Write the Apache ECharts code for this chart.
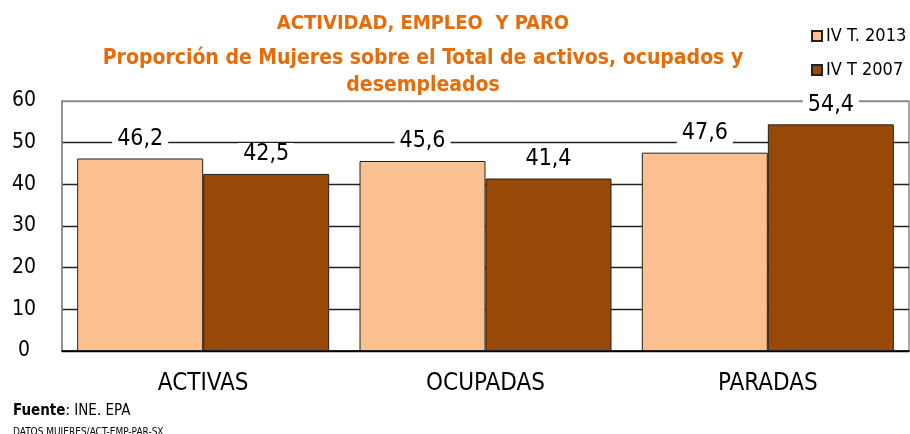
<!DOCTYPE html>
<html>
<head>
<meta charset="utf-8">
<script src="https://cdn.jsdelivr.net/npm/echarts@6/dist/echarts.min.js"></script>
<style>
  html, body { margin: 0; padding: 0; background: #fff; }
  #main { width: 910px; height: 434px; }
</style>
</head>
<body>
<div id="main"></div>
<script>
(function () {
    'use strict';
    var categories = ['ACTIVAS', 'OCUPADAS', 'PARADAS'];
    var serie2013 = [46.2, 45.6, 47.6];
    var serie2007 = [42.5, 41.4, 54.4];
    var seriesNames = ['IV T. 2013', 'IV T 2007'];
    var FONT = '"Liberation Sans Narrow", "DejaVu Sans Condensed", sans-serif';

    var dom = document.getElementById('main');
    var myChart = echarts.init(dom);

    function fmt(p) {
        return String(p.value).replace('.', ',');
    }
    var labelStyle = {
        show: true,
        position: 'top',
        distance: 8,
        formatter: fmt,
        color: '#000',
        fontFamily: FONT,
        fontSize: 23,
        backgroundColor: '#fff',
        padding: [0, 5, 0, 5]
    };

    var option = {
        animation: false,
        title: [
            {
                text: 'ACTIVIDAD, EMPLEO  Y PARO',
                left: 418,
                top: 9,
                textAlign: 'center',
                textStyle: { color: '#E46C0A', fontFamily: FONT, fontWeight: 'bold', fontSize: 20 }
            },
            {
                text: 'Proporción de Mujeres sobre el Total de activos, ocupados y\ndesempleados',
                left: 418,
                top: 40,
                textAlign: 'center',
                textStyle: { color: '#E46C0A', fontFamily: FONT, fontWeight: 'bold', fontSize: 21, lineHeight: 27 }
            }
        ],
        legend: {
            orient: 'vertical',
            left: 806,
            top: 22,
            itemGap: 16,
            itemWidth: 10,
            itemHeight: 10,
            icon: 'rect',
            textStyle: { color: '#000', fontFamily: FONT, fontSize: 18, padding: [0, 0, 0, -1] },
            data: seriesNames
        },
        grid: {
            left: 62,
            right: 1,
            top: 101,
            bottom: 83,
            show: true,
            borderColor: '#8c8c8c',
            borderWidth: 1.5
        },
        xAxis: {
            type: 'category',
            data: categories,
            axisLine: { lineStyle: { color: '#000', width: 1.5 } },
            axisTick: { show: false },
            axisLabel: { color: '#000', fontFamily: FONT, fontSize: 24, margin: 21 }
        },
        yAxis: {
            type: 'value',
            min: 0,
            max: 60,
            interval: 10,
            axisLine: { show: true, lineStyle: { color: '#8c8c8c', width: 1.5 } },
            axisTick: { show: false },
            axisLabel: { color: '#000', fontFamily: FONT, fontSize: 21, margin: 38, align: 'center' },
            splitLine: { lineStyle: { color: ['#000', '#222', '#222', '#222', '#222', '#222', '#8c8c8c'], width: 1.3 } }
        },
        series: [
            {
                name: seriesNames[0],
                type: 'bar',
                data: serie2013,
                barWidth: 126,
                barGap: '0%',
                itemStyle: { color: '#FAC090', borderColor: '#222', borderWidth: 1 },
                label: labelStyle
            },
            {
                name: seriesNames[1],
                type: 'bar',
                data: serie2007,
                barWidth: 126,
                barGap: '0%',
                itemStyle: { color: '#984807', borderColor: '#222', borderWidth: 1 },
                label: labelStyle
            }
        ],
        graphic: [
            {
                type: 'text',
                left: 13,
                top: 404,
                style: {
                    text: '{b|Fuente}: INE. EPA',
                    rich: {
                        b: { fontWeight: 'bold', fontFamily: FONT, fontSize: 15, fill: '#000' }
                    },
                    fontFamily: FONT,
                    fontSize: 15,
                    fill: '#000'
                }
            },
            {
                type: 'text',
                left: 13,
                top: 427,
                style: {
                    text: 'DATOS MUJERES/ACT-EMP-PAR-SX',
                    fontFamily: FONT,
                    fontSize: 10,
                    fill: '#000'
                }
            }
        ]
    };
    myChart.setOption(option, true);
}());
</script>
</body>
</html>
